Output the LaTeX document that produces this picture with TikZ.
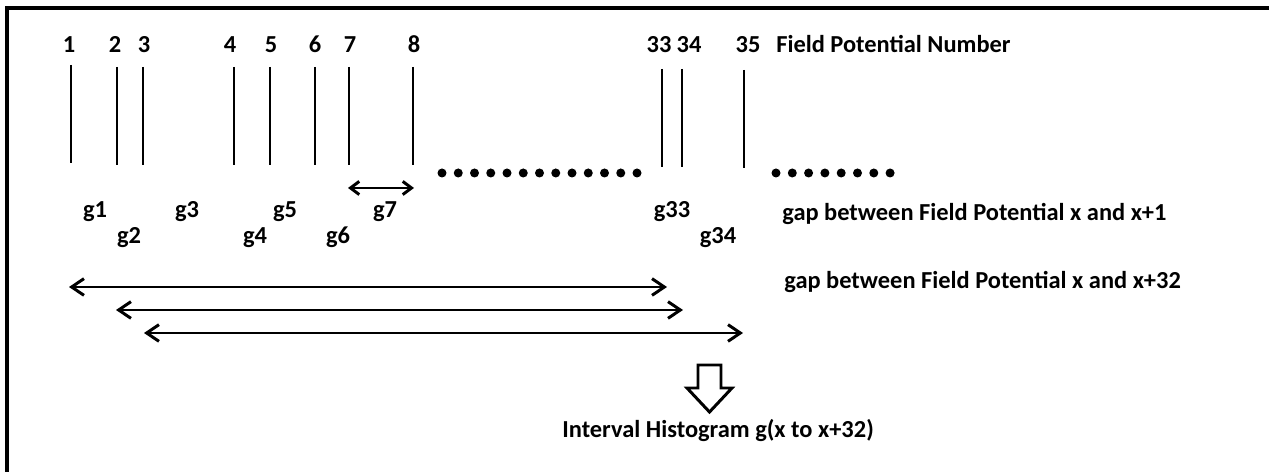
\documentclass[tikz,border=0pt]{standalone}
\usepackage{fontspec}
\setmainfont{Carlito}
\usetikzlibrary{arrows.meta}
\tikzset{
  lbl/.style={font=\bfseries\fontsize{13.9}{16}\selectfont, inner sep=0pt, anchor=base},
  lbll/.style={lbl, anchor=base west},
  fpline/.style={line width=1.7pt},
  longarrow/.style={line width=1.7pt, {Straight Barb[length=7pt,width=9.5pt]}-{Straight Barb[length=7pt,width=9.5pt]}},
  shortarrow/.style={line width=1.7pt, {Straight Barb[length=5pt,width=7.5pt]}-{Straight Barb[length=5pt,width=7.5pt]}},
  dotmark/.style={fill=black, circle, inner sep=0pt, minimum size=0.18cm},
  frameline/.style={line width=2pt},
  blockarrow/.style={line width=1.7pt, line join=miter, fill=white}
}
\begin{document}
\begin{tikzpicture}[x=0.02cm,y=-0.02cm]
\useasboundingbox (0,0) rectangle (1269,472);
% frame (top and left edges)
\coordinate (fbl) at (7,472);
\coordinate (ftl) at (7,8);
\coordinate (ftr) at (1269,8);
\draw[frameline] (fbl) -- (ftl) -- (ftr);

% field potential lines and numbers
\foreach \n/\x/\lx/\yt in {1/71/69/65, 2/117/115/67, 3/143/144/67, 4/234/230/67, 5/270/271/67, 6/315/315/67, 7/349/350/67, 8/413/414/67, 33/662/659/69, 34/682/689/69, 35/744/748/70}{
  \coordinate (t\n) at (\x,\yt);
  \coordinate (b\n) at (\x,\yt+98);
  \draw[fpline] (t\n) -- (b\n);
  \node[lbl] (n\n) at (\lx,53) {\n};
}
\node[lbll] (fpn) at (776,53) {Field Potential Number};

% dots
\foreach \i in {0,...,12}{
  \node[dotmark] (dl\i) at ({442+16.25*\i},173) {};
}
\foreach \i in {0,...,7}{
  \node[dotmark] (dr\i) at ({776+16.3*\i},173) {};
}

% g7 arrow
\coordinate (g7l) at (348,188);
\coordinate (g7r) at (414,188);
\draw[shortarrow] (g7l) -- (g7r);

% gap labels
\node[lbl] (g1) at (95,218) {g1};
\node[lbl] (g2) at (129,244) {g2};
\node[lbl] (g3) at (187,218) {g3};
\node[lbl] (g4) at (255,244) {g4};
\node[lbl] (g5) at (285,218) {g5};
\node[lbl] (g6) at (338,244) {g6};
\node[lbl] (g7) at (385,218) {g7};
\node[lbl] (g33) at (672,218) {g33};
\node[lbl] (g34) at (718,244) {g34};
\node[lbll] (gap1) at (782,221) {gap between Field Potential x and x+1};

% long arrows
\coordinate (a1l) at (69,287);
\coordinate (a1r) at (667,287);
\coordinate (a2l) at (116,310);
\coordinate (a2r) at (683,310);
\coordinate (a3l) at (144,333);
\coordinate (a3r) at (743,333);
\draw[longarrow] (a1l) -- (a1r);
\draw[longarrow] (a2l) -- (a2r);
\draw[longarrow] (a3l) -- (a3r);
\node[lbll] (gap32) at (784,289) {gap between Field Potential x and x+32};

% block arrow
\draw[blockarrow] (698,365) -- (721,365) -- (721,388) -- (732,388) -- (709.5,412) -- (687,388) -- (698,388) -- cycle;
\node[lbll] (ih) at (562,438) {Interval Histogram g(x to x+32)};
\end{tikzpicture}
\end{document}
